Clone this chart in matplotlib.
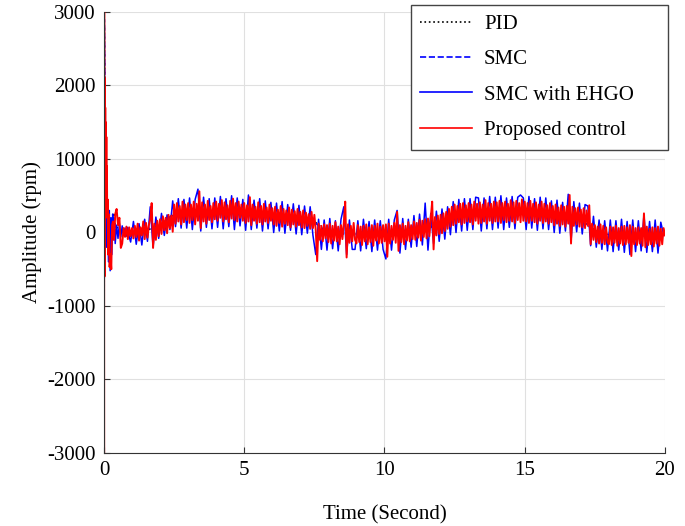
import numpy as np
import matplotlib
matplotlib.use('Agg')
import matplotlib.pyplot as plt

plt.rcParams['font.family'] = ['Liberation Serif', 'DejaVu Serif']

# start-up part (fine time steps)
red_t0 = [0, 0.004, 0.008, 0.012, 0.018, 0.025, 0.035, 0.045, 0.055, 0.065, 0.075,
          0.085, 0.095, 0.105, 0.115, 0.13, 0.15, 0.17, 0.2, 0.23, 0.26, 0.29, 0.32,
          0.36, 0.4, 0.45, 0.5, 0.55, 0.6, 0.65, 0.7, 0.75, 0.8, 0.85, 0.9, 0.95]
red_y0 = [0, -3000, 3000, 1800, -600, 2100, 900, 1700, 700, 1500, 500,
          1300, 400, 900, 200, 450, -300, 250, -470, -300, -500, 100, 150,
          -100, 250, 320, 100, 200, -210, -150, 60, -60, 80, -90, 70, -50]

blue_t0 = [0, 0.005, 0.01, 0.02, 0.04, 0.06, 0.08, 0.1, 0.13, 0.16, 0.19, 0.22,
           0.25, 0.28, 0.31, 0.34, 0.37, 0.4, 0.45, 0.5, 0.55, 0.6, 0.65, 0.7,
           0.75, 0.8, 0.85, 0.9]
blue_y0 = [0, -3000, 2900, 600, 2100, 300, 1000, -200, 250, -400, 300, -520,
           200, -300, 250, -100, 180, -150, 100, -80, 120, -60, 90, -40,
           60, -50, 70, -60]

# proposed control, one value every 0.05 s from 1.0 s
red_ss = [
    60, -80, 90, -60, 120, -110, 70, -40, 150, -90, 130, -70, 100, 180, 400, -210, 120, -100, 160, -50,
    180, -20, 220, 30, 200, -10, 240, 60, 230, 10, 380, 120, 400, 150, 360, 110, 420, 140, 380, 170,
    400, 130, 380, 170, 420, 110, 390, 160, 560, 60, 410, 150, 380, 120, 430, 170, 360, 140, 400, 180,
    420, 160, 390, 200, 440, 150, 410, 180, 370, 140, 430, 190, 460, 170, 400, 150, 420, 200, 380, 160,
    400, 130, 370, 150, 480, 100, 380, 160, 350, 120, 410, 140, 360, 110, 390, 150, 340, 130, 380, 160,
    330, 110, 350, 90, 310, 130, 360, 80, 320, 120, 300, 100, 340, 70, 310, 110, 290, 80, 320, 100,
    280, 70, 300, 60, 270, 90, 250, 50, 280, 60, 240, 30, -390, 120, -100, 90, -120, 110, -80, 100,
    -130, 120, -150, 90, -110, 140, -120, 80, -160, 100, -90, 130, 420, -340, 110, -140, 90, -120, 130, -100,
    -150, 100, -130, 80, -170, 90, -120, 110, -160, 70, -130, 100, -180, 90, -110, 120, -150, 80, -140, 100,
    -120, 110, -330, 120, -150, 90, -100, 130, -140, 280, -250, 100, -130, 120, -160, 90, -110, 140, -120, 100,
    -90, 150, -100, 130, -70, 170, -110, 160, -60, 180, -80, 190, -50, 200, 420, -230, 210, -40, 230, -20,
    240, -10, 260, 20, 280, 50, 320, 80, 350, 100, 380, 120, 360, 140, 390, 110, 400, 130, 370, 150,
    400, 140, 380, 110, 420, 160, 390, 120, 410, 130, 380, 150, 440, 120, 400, 160, 390, 130, 420, 150,
    410, 150, 430, 130, 400, 170, 420, 140, 390, 160, 440, 150, 410, 130, 430, 170, 400, 140, 450, 160,
    420, 150, 400, 130, 430, 160, 390, 140, 410, 120, 380, 160, 420, 130, 390, 150, 370, 120, 400, 140,
    360, 100, 380, 120, 340, 90, 370, 110, 350, 80, 360, 120, 510, -150, 350, 90, 330, 110, 340, 80,
    310, 70, 330, 60, 300, 90, 370, -160, 120, -100, 100, -130, 80, -150, 110, -140, 90, -160, 70, -130,
    -160, 80, -170, 70, -140, 90, -180, 60, -150, 80, -170, 90, -160, 70, -140, 100, -320, 80, -160, 60,
    -170, 70, -150, 60, -180, 260, -200, 80, -170, 50, -160, 70, -190, 60, -150, 80, -180, 50, -160, 60,
    -40,
]

# SMC with EHGO, one value every 0.1 s from 0.95 s
blue_ss = [
    -130, 150, -160, 120, -170, 180, -120, 350, -200, 210,
    -80, 260, -40, 240, 40, 430, 80, 460, 60, 450,
    60, 470, 40, 450, 590, 20, 480, 70, 460, 50,
    470, 70, 490, 50, 460, 80, 500, 40, 470, 90,
    450, 30, 510, 40, 440, 60, 460, 20, 430, 50,
    410, 0, 400, 20, 420, -10, 380, 30, 390, -20,
    370, -30, 360, -10, 350, -40, -300, 180, -230, 170,
    -240, 190, -220, 160, -250, 180, 350, -300, 170, -230,
    -230, 160, -250, 180, -220, 150, -260, 170, -240, 160,
    -230, -360, 180, -240, 170, 300, -280, 190, -230, 180,
    -200, 230, -190, 250, -170, 400, -240, 260, -150, 290,
    -120, 320, -90, 350, -30, 420, 0, 450, 20, 460,
    30, 460, 40, 480, 470, 20, 470, 50, 490, 40,
    480, 60, 500, 40, 470, 70, 490, 50, 480, 510,
    470, 40, 490, 60, 460, 30, 480, 50, 470, 40,
    430, 0, 440, -10, 410, 20, 520, -120, 420, 10,
    400, -20, 380, 360, -180, 220, -200, 170, -230, 160,
    -250, 170, -260, 160, -240, 180, -270, 150, -300, 170,
    -260, 160, -250, 240, -270, 150, -260, 170, -280, 140,
    -30,
]

# PID and SMC are mostly hidden under the other two
pid_t = [0, 0.005, 0.01, 0.05, 0.1, 0.2, 0.3, 0.35, 0.4, 0.6, 1, 1.5, 2, 2.5, 3,
         4, 5, 6, 7, 7.5, 8, 9, 10, 11, 12, 12.5, 13, 14, 15, 16, 17, 17.5, 18, 19, 20]
pid_y = [0, -2800, 2800, 800, 300, -200, 200, 270, 100, 0, 10, 30, 90, 250, 270,
         280, 250, 210, 170, 150, -10, -20, -10, 30, 100, 200, 240, 265, 270, 215,
         170, 30, -30, -40, -40]
smc_y = [0, -2900, 2900, 900, 250, -250, 150, 200, 80, 0, 10, 40, 100, 260, 270,
         285, 240, 200, 160, 140, -10, -20, -10, 40, 110, 200, 240, 260, 280, 210,
         170, 20, -30, -40, -40]

red_t = np.concatenate([red_t0, 1.0 + 0.05 * np.arange(len(red_ss))])
red_y = np.concatenate([red_y0, red_ss])
blue_t = np.concatenate([blue_t0, 0.95 + 0.1 * np.arange(len(blue_ss))])
blue_y = np.concatenate([blue_y0, blue_ss])

fig = plt.figure(figsize=(6.85, 5.26), dpi=100)
ax = fig.add_axes([0.1518, 0.1388, 0.819, 0.8384])

ax.plot(pid_t, pid_y, ':', color='black', linewidth=1.2, label='PID')
ax.plot(pid_t, smc_y, '--', color='blue', linewidth=1.2, label='SMC')
ax.plot(blue_t, blue_y, '-', color='blue', linewidth=1.1, label='SMC with EHGO')
ax.plot(red_t, red_y, '-', color='red', linewidth=1.4, label='Proposed control')

ax.set_xlim(0, 20)
ax.set_ylim(-3000, 3000)
ax.set_xticks([0, 5, 10, 15, 20])
ax.set_yticks([-3000, -2000, -1000, 0, 1000, 2000, 3000])
ax.set_yticklabels(['-3000', '-2000', '-1000', '0', '1000', '2000', '3000'])
ax.grid(True, color='#e0e0e0', linewidth=0.8)
ax.set_axisbelow(True)
for s in ['top', 'right']:
    ax.spines[s].set_visible(False)
for s in ['left', 'bottom']:
    ax.spines[s].set_color('#333333')
ax.tick_params(direction='in', length=4, labelsize=15, color='#333333', pad=6)
ax.set_xlabel('Time (Second)', fontsize=15, labelpad=18)
ax.set_ylabel('Amplitude (rpm)', fontsize=15, labelpad=4)

leg = fig.legend(loc='upper left', bbox_to_anchor=(0.6, 0.7205, 0.3752, 0.27),
                 mode='expand', borderaxespad=0, fontsize=15,
                 handlelength=2.5, handletextpad=0.55, labelspacing=0.76,
                 borderpad=0.45, fancybox=False, framealpha=1)
leg.get_frame().set_edgecolor('#444444')
leg.get_frame().set_linewidth(1.0)
for h in leg.get_lines():
    h.set_linewidth(1.2)

fig.savefig('out.png', dpi=100)
